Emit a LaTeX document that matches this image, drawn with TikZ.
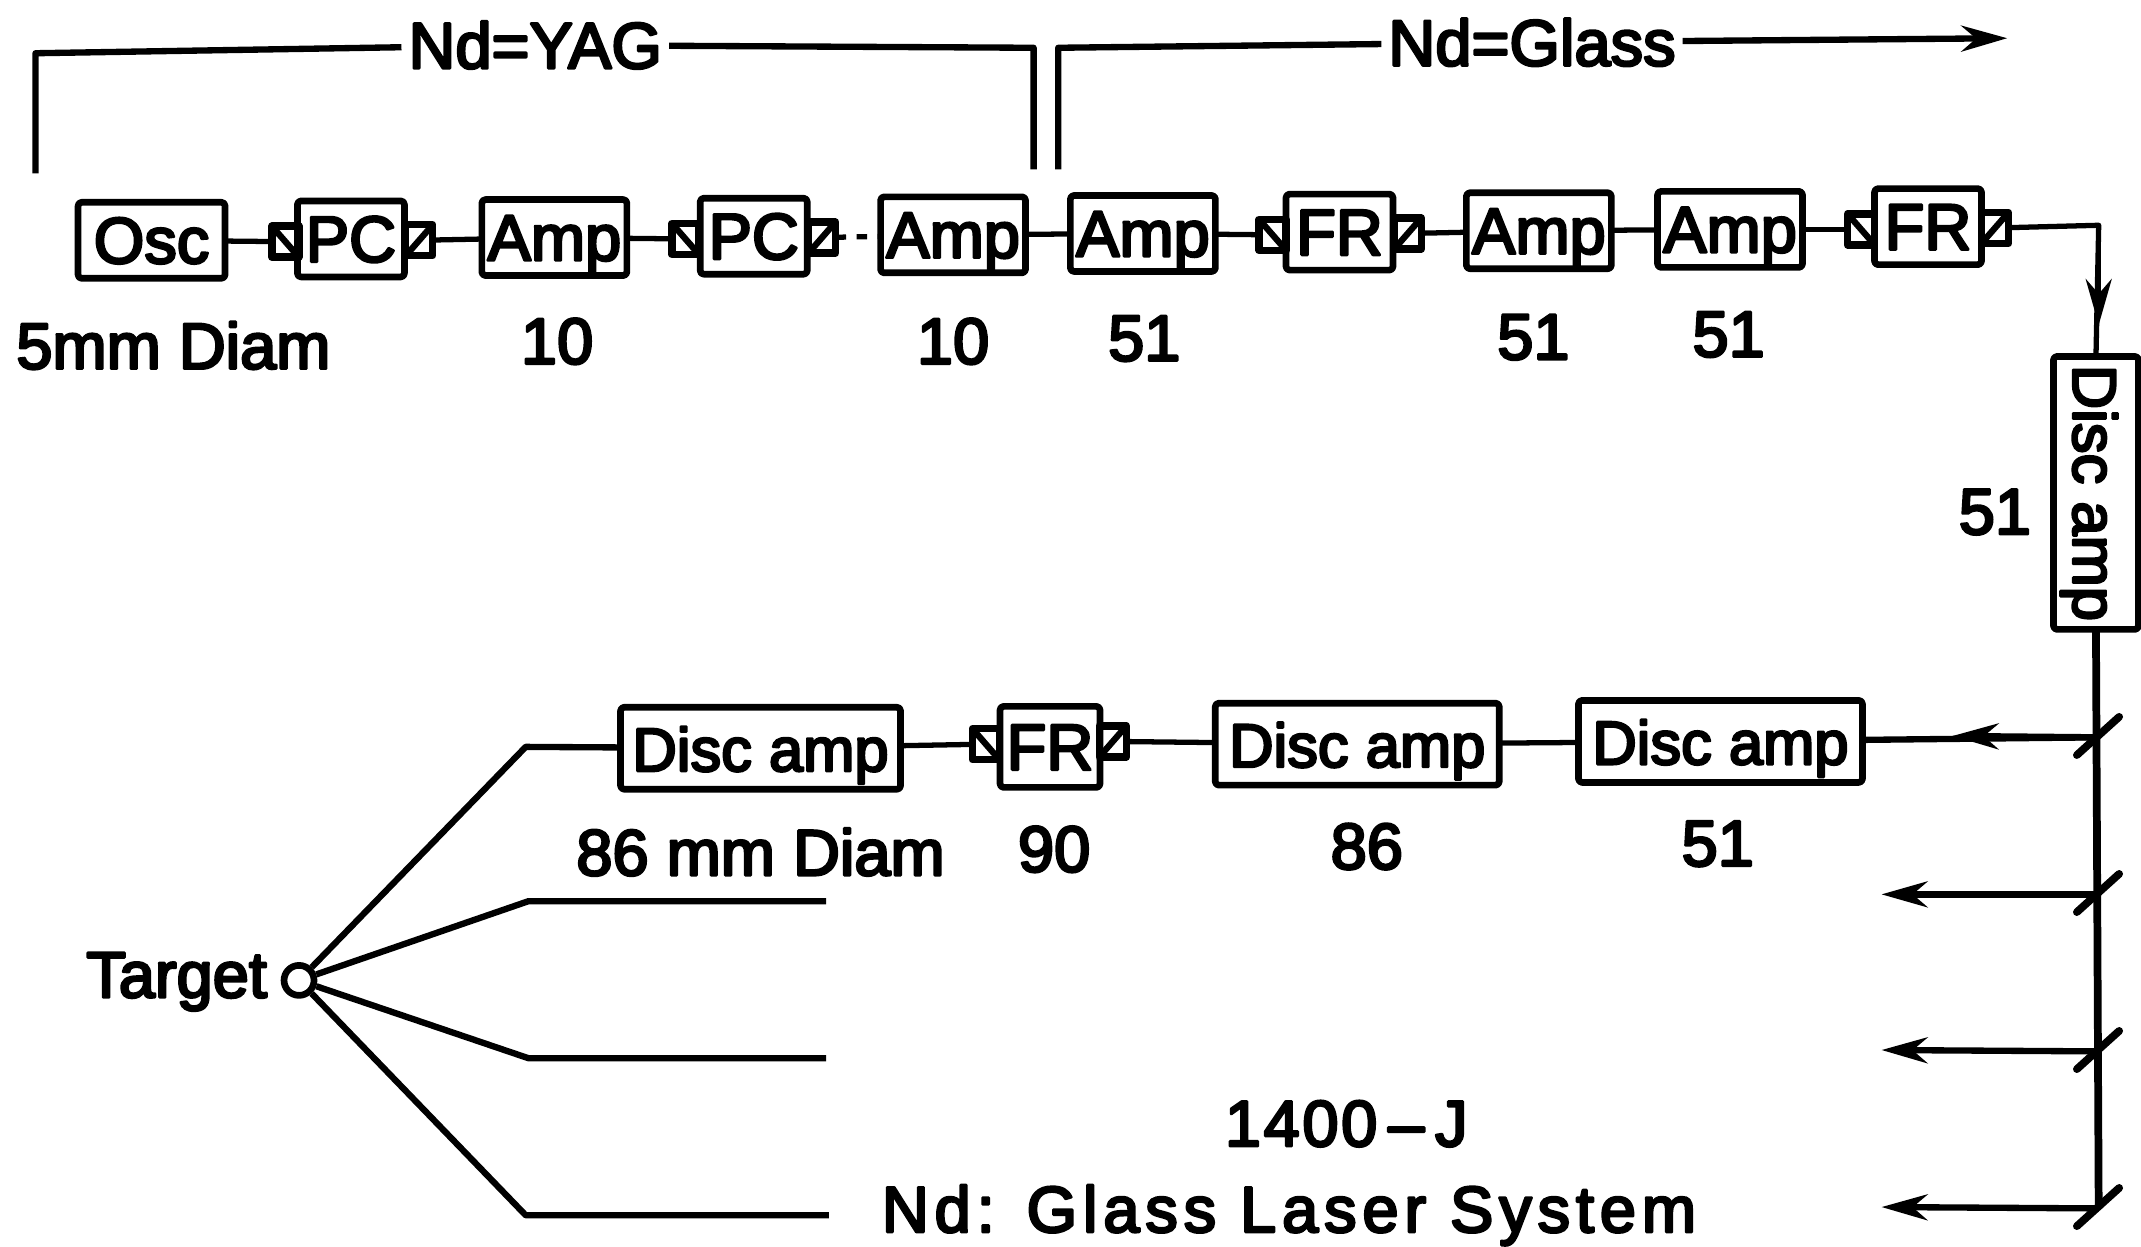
\documentclass[tikz,border=0pt]{standalone}
\usepackage{fontspec}
\setmainfont[FakeBold=4]{Liberation Sans}
\usetikzlibrary{arrows.meta}
\begin{document}
\begin{tikzpicture}[
        x=0.013654cm, y=-0.013654cm,
        >={Stealth[length=0.46cm,width=0.26cm]},
        line join=round,
        font=\fontsize{18.5}{22}\selectfont,
        stage/.style={draw, line width=1.9pt, inner sep=0pt, outer sep=0pt, rounded corners=1pt, text height=13pt, text depth=0pt},
        ampbox/.style={stage, minimum width=1.45cm, minimum height=0.76cm},
        pcbox/.style={stage, minimum width=1.07cm, minimum height=0.76cm},
        discbox/.style={stage, font=\fontsize{17.5}{22}\selectfont, minimum width=2.84cm, minimum height=0.82cm},
        polleft/.style={draw, line width=2.1pt, minimum width=0.27cm, minimum height=0.31cm, inner sep=0pt, outer sep=0pt,
            path picture={\draw[line width=1.8pt] (path picture bounding box.north west) -- (path picture bounding box.south east);}},
        polright/.style={draw, line width=2.1pt, minimum width=0.27cm, minimum height=0.31cm, inner sep=0pt, outer sep=0pt,
            path picture={\draw[line width=1.8pt] (path picture bounding box.north east) -- (path picture bounding box.south west);}},
        beam/.style={line width=1.5pt},
        trunk/.style={line width=2.2pt},
        feed/.style={line width=1.8pt},
        head/.style={inner sep=2pt, outer sep=0pt}
    ]
    \useasboundingbox (0,0) rectangle (1568,913);

    % front end
    \node[ampbox, minimum width=1.47cm] (osc) at (111,176) {Osc};
    \node[pcbox] (pca) at (257,175) {PC};
    \node[polleft] (pcal) at (209,177) {};
    \node[polright] (pcar) at (307,176) {};
    \node[ampbox] (ampa) at (406,174) {Amp};
    \node[pcbox] (pcb) at (552,173) {PC};
    \node[polleft] (pcbl) at (502,175) {};
    \node[polright] (pcbr) at (602,174) {};
    \node[ampbox] (ampb) at (698,172) {Amp};
    \node[ampbox] (ampc) at (837,171) {Amp};
    \node[pcbox] (fra) at (981,170) {FR};
    \node[polleft] (fral) at (932,172) {};
    \node[polright] (frar) at (1031,171) {};
    \node[ampbox] (ampd) at (1127,169) {Amp};
    \node[ampbox] (ampe) at (1267,168) {Amp};
    \node[pcbox] (frb) at (1412,166) {FR};
    \node[polleft] (frbl) at (1363,168) {};
    \node[polright] (frbr) at (1461,167) {};

    % disc amplifiers
    \node[discbox, rotate=-90, minimum width=2.73cm, minimum height=0.85cm] (disca) at (1535,361) {Disc amp};
    \node[discbox] (discb) at (1260,543) {Disc amp};
    \node[discbox] (discc) at (994,545) {Disc amp};
    \node[pcbox, minimum width=1cm, minimum height=0.81cm] (frc) at (769,547) {FR};
    \node[polleft] (frcl) at (722,545) {};
    \node[polright] (frcr) at (815,543) {};
    \node[discbox, minimum width=2.8cm] (discd) at (557,548) {Disc amp};

    % links along the chain
    \draw[beam] (osc) -- (pcal);
    \draw[beam] (pcar) -- (ampa);
    \draw[beam] (ampa) -- (pcbl);
    \draw[beam, dashed] (pcbr) -- (ampb);
    \draw[beam] (ampb) -- (ampc);
    \draw[beam] (ampc) -- (fral);
    \draw[beam] (frar) -- (ampd);
    \draw[beam] (ampd) -- (ampe);
    \draw[beam] (ampe) -- (frbl);
    \draw[beam] (discd) -- (frcl);
    \draw[beam] (frcr) -- (discc);
    \draw[beam] (discc) -- (discb);

    % turn down to the first disc
    \coordinate (bend) at (1537,165);
    \coordinate (downtip) at (1537,238);
    \draw[beam] (frbr) -- (bend) -- (disca.west);
    \draw[beam, ->] (bend) -- (downtip);

    % splitters and side arms
    \coordinate (tapa) at (1537,540);
    \coordinate (tapb) at (1537,655);
    \coordinate (tapc) at (1537,770);
    \coordinate (tapd) at (1537,885);
    \coordinate (armtip) at (1430,539);
    \coordinate (armb) at (1378,655);
    \coordinate (armc) at (1378,769);
    \coordinate (armd) at (1378,884);
    \draw[trunk] (disca.east) -- (tapd);
    \foreach \t in {tapa,tapb,tapc,tapd}
        \draw[trunk, line cap=round] ([shift={(-16,13)}]\t) -- ([shift={(15,-15)}]\t);
    \draw[feed] (tapa) -- (discb);
    \draw[feed, ->] (tapa) -- (armtip);
    \draw[feed, ->] (tapb) -- (armb);
    \draw[feed, ->] (tapc) -- (armc);
    \draw[feed, ->] (tapd) -- (armd);

    % target
    \node[draw, circle, line width=1.9pt, minimum size=0.3cm, inner sep=0pt] (target) at (219,718) {};
    \node[anchor=east, inner sep=0pt] (targetlab) at (196,719) {Target};
    \coordinate (knee) at (385,547);
    \coordinate (kneeb) at (387,660);
    \coordinate (kneec) at (387,775);
    \coordinate (kneed) at (385,890);
    \coordinate (enda) at (605,660);
    \coordinate (endb) at (605,775);
    \coordinate (endc) at (607,890);
    \draw[feed] (discd) -- (knee) -- (target);
    \draw[feed] (enda) -- (kneeb) -- (target);
    \draw[feed] (endb) -- (kneec) -- (target);
    \draw[feed] (endc) -- (kneed) -- (target);

    % top brackets
    \node[head] (yag) at (392,33) {Nd=YAG};
    \node[head] (glass) at (1122,31) {Nd=Glass};
    \coordinate (yaga) at (26,127);
    \coordinate (yagb) at (26,39);
    \coordinate (yagc) at (757,35);
    \coordinate (yagd) at (757,124);
    \coordinate (glassa) at (775,124);
    \coordinate (glassb) at (775,35);
    \coordinate (glassc) at (1470,28);
    \draw[feed] (yaga) -- (yagb) -- (yag);
    \draw[feed] (yag) -- (yagc) -- (yagd);
    \draw[feed] (glassa) -- (glassb) -- (glass);
    \draw[feed, ->] (glass) -- (glassc);

    % sizes
    \node (sizea) at (127,253) {5mm Diam};
    \node (sizeb) at (408,250) {10};
    \node (sizec) at (698,250) {10};
    \node (sized) at (838,248) {51};
    \node (sizee) at (1123,247) {51};
    \node (sizef) at (1266,245) {51};
    \node (sizeg) at (1461,375) {51};
    \node (sizeh) at (557,624) {86 mm Diam};
    \node (sizei) at (772,622) {90};
    \node (sizej) at (1001,620) {86};
    \node (sizek) at (1258,618) {51};

    % caption
    \node (title) at (986,823) {\addfontfeature{LetterSpace=4}1400\,--\,J};
    \node (system) at (944,890) {\addfontfeature{LetterSpace=9}Nd: Glass Laser System};
\end{tikzpicture}
\end{document}
